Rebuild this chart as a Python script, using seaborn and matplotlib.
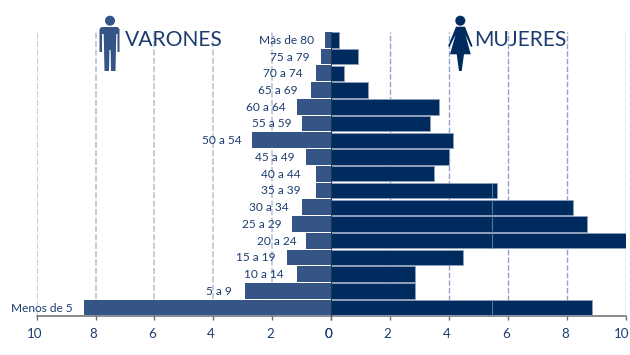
import matplotlib
matplotlib.use("Agg")
import matplotlib.pyplot as plt
from matplotlib.patches import Circle, Polygon
from matplotlib.transforms import ScaledTranslation
import seaborn as sns
import pandas as pd

age_groups = ["Más de 80", "75 a 79", "70 a 74", "65 a 69", "60 a 64", "55 a 59", "50 a 54",
              "45 a 49", "40 a 44", "35 a 39", "30 a 34", "25 a 29", "20 a 24", "15 a 19",
              "10 a 14", "5 a 9", "Menos de 5"]
varones = [0.18, 0.32, 0.49, 0.66, 1.13, 0.96, 2.66, 0.82, 0.49, 0.49, 0.96, 1.30, 0.82, 1.47, 1.13, 2.90, 8.41]
mujeres = [0.30, 0.94, 0.47, 1.28, 3.67, 3.36, 4.16, 4.01, 3.51, 5.65, 8.21, 8.69, 10.03, 4.48, 2.87, 2.87, 8.86]
label_pad_px = [11, 11, 13, 14, 12, 11, 11, 12, 15, 15, 14, 11, 10, 12, 14, 14, 11]
seam_x = 5.45
seam_rows = ["35 a 39", "30 a 34", "25 a 29", "20 a 24", "Menos de 5"]
ticks_left = [10, 8, 6, 4, 2, 0]
ticks_right = [0, 2, 4, 6, 8, 10]

W, H = 630, 355
BLUE_L, BLUE_R = "#355586", "#002b5e"
TEXT = "#1c3c70"
FONT = "Lato"

sns.set_theme(style="white")
plt.rcParams["font.family"] = FONT

fig = plt.figure(figsize=(W / 100, H / 100), dpi=100, facecolor="white")
top, bottom, x_l, x_0, x_r = 31.5, 316.0, 37.0, 330.5, 626.0
def box(a, b):
    return [a / W, 1 - bottom / H, (b - a) / W, (bottom - top) / H]
axL = fig.add_axes(box(x_l, x_0))
axR = fig.add_axes(box(x_0, x_r))

df = pd.DataFrame({"grupo": age_groups, "V": varones, "M": mujeres})
sns.barplot(data=df, y="grupo", x="V", order=age_groups, color=BLUE_L, saturation=1,
            width=0.94, linewidth=0, ax=axL, zorder=3)
sns.barplot(data=df, y="grupo", x="M", order=age_groups, color=BLUE_R, saturation=1,
            width=0.92, edgecolor="#8fa0bd", linewidth=0.6, ax=axR, zorder=3)

axL.set_xlim(10, 0)
axR.set_xlim(0, 10)
for ax, ticks in ((axL, ticks_left), (axR, ticks_right)):
    ax.set_ylim(16.5, -0.5)
    ax.set_xlabel("")
    ax.set_ylabel("")
    ax.set_yticks([])
    ax.set_xticks(ticks)
    ax.set_xticklabels([str(t) for t in ticks], fontsize=9.6, color=TEXT)
    ax.tick_params(axis="x", length=3, width=1, color="#6b6b70", pad=6, bottom=True)
    for lab in ax.get_xticklabels():
        lab.set_transform(lab.get_transform() + ScaledTranslation(-2 / 100, 0, fig.dpi_scale_trans))
        lab.set_clip_on(False)
    for s in ("top", "left", "right"):
        ax.spines[s].set_visible(False)
    ax.spines["bottom"].set_color("#6b6b70")
    ax.spines["bottom"].set_linewidth(1.1)
    ax.patch.set_alpha(0)

# The last tick label sits at the picture edge: anchor it on its right so it stays whole
last = axR.get_xticklabels()[-1]
last.set_horizontalalignment("right")
last.set_transform(last.get_transform() + ScaledTranslation(5 / 100, 0, fig.dpi_scale_trans))

axL.xaxis.grid(True, color="#b4bfd6", lw=1.1, ls=(0, (4, 1.5)), zorder=0)
axR.xaxis.grid(True, color="#93a5c6", lw=1.0, ls=(0, (4, 1.5)), zorder=0)
axL.set_axisbelow(True)
axR.set_axisbelow(True)

axR.axvline(0, color="#0b1a30", lw=1.1, zorder=5)
for r in seam_rows:
    i = age_groups.index(r)
    axR.vlines(seam_x, i - 0.43, i + 0.43, color="#5b7199", lw=0.8, zorder=4)

for i, (g, v) in enumerate(zip(age_groups, varones)):
    axL.annotate(g, xy=(v, i), xytext=(-label_pad_px[i] * 0.72, -0.3), textcoords="offset points",
                 ha="right", va="center", fontsize=8.6, color=TEXT, zorder=6, annotation_clip=False)

# Overlay in pixel coordinates for the pictograms and headings
ov = fig.add_axes([0, 0, 1, 1], zorder=10)
ov.set_xlim(0, W)
ov.set_ylim(H, 0)
ov.axis("off")
ov.patch.set_alpha(0)

ov.add_patch(Circle((110, 20.7), 5, fc=BLUE_L, ec="none"))
ov.add_patch(Polygon([(101.5, 27), (117.5, 27), (119.5, 29), (119.5, 52), (117.5, 52), (117.5, 34),
                      (116.3, 34), (115.5, 71), (111, 71), (110.6, 50), (109.4, 50), (109, 71), (104.5, 71),
                      (103.7, 34), (102, 34), (102, 52), (99.5, 52), (99.5, 29)], fc=BLUE_L, ec="none"))
ov.add_patch(Circle((460.3, 20.7), 5, fc=BLUE_R, ec="none"))
ov.add_patch(Polygon([(456, 26.7), (465, 26.7), (472.5, 46), (471, 47), (465.5, 35), (470.7, 54.3),
                      (464, 54.3), (461.7, 71), (459, 71), (456.7, 54.3), (450, 54.3), (455.5, 35),
                      (449.5, 47), (448.2, 46)], fc=BLUE_R, ec="none"))

ov.text(124.5, 38, "VARONES", fontsize=15.1, color=TEXT, ha="left", va="center_baseline")
ov.text(474.5, 38, "MUJERES", fontsize=15.1, color=TEXT, ha="left", va="center_baseline")

fig.savefig("out.png", dpi=100, facecolor="white")
